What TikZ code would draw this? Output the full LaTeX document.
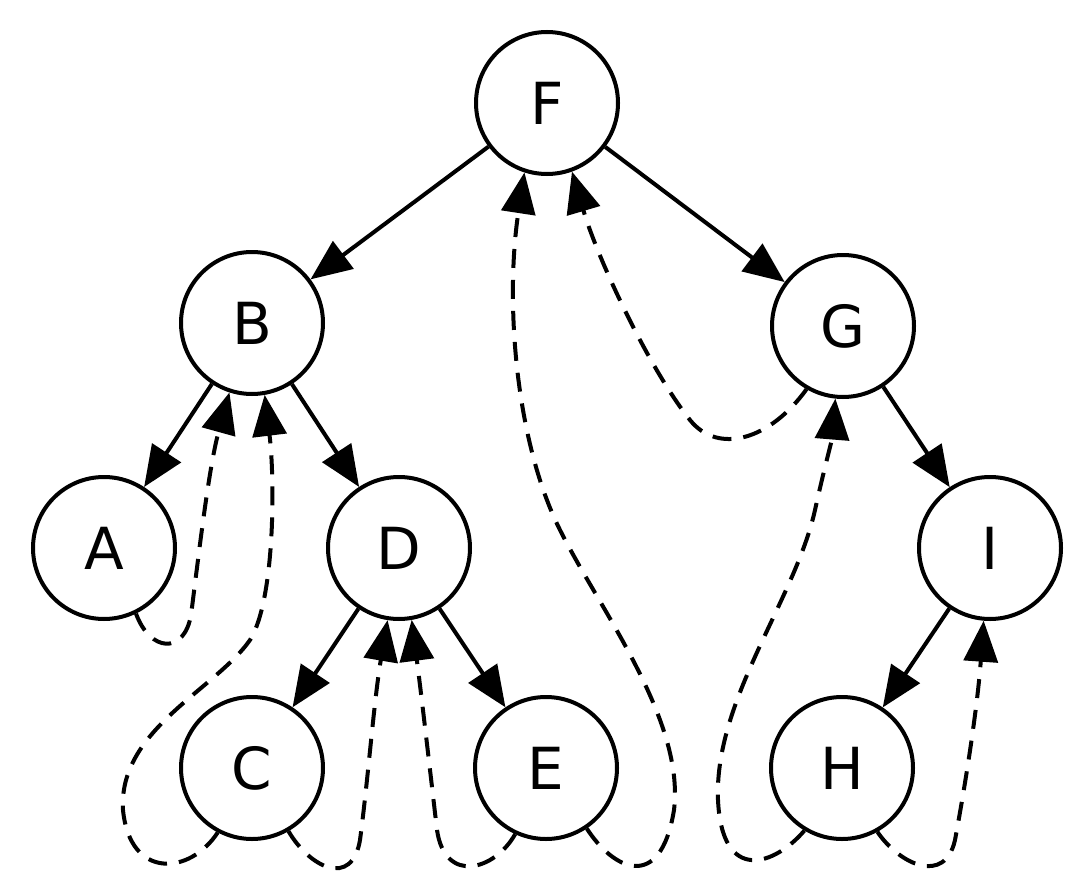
\documentclass[tikz,border=0pt]{standalone}
\usepackage{fontspec}
\setmainfont{DejaVu Sans}
\usepackage{tikz}
\usetikzlibrary{arrows.meta}
\tikzset{
  vertex/.style       = {circle, draw, line width=4pt, minimum size=142pt, inner sep=0pt,
                         font=\fontsize{58}{60}\selectfont},
  child/.style        = {-{Triangle[length=41pt, width=34pt]}, line width=4pt},
  thread/.style       = {child, dash pattern=on 19pt off 12pt},
}

\begin{document}
\begin{tikzpicture}[x=1pt, y=-1pt]
  \useasboundingbox (0,0) rectangle (1066,891);
  \node[vertex] (F) at (547,103) {F};
  \node[vertex] (B) at (252,323) {B};
  \node[vertex] (G) at (843,326) {G};
  \node[vertex] (A) at (104,548) {A};
  \node[vertex] (D) at (399,548) {D};
  \node[vertex] (I) at (990,548) {I};
  \node[vertex] (C) at (252,768) {C};
  \node[vertex] (E) at (546,768) {E};
  \node[vertex] (H) at (842,768) {H};
  % tree edges
  \draw[child] (F) -- (B);
  \draw[child] (F) -- (G);
  \draw[child] (B) -- (A);
  \draw[child] (B) -- (D);
  \draw[child] (D) -- (C);
  \draw[child] (D) -- (E);
  \draw[child] (G) -- (I);
  \draw[child] (I) -- (H);
  % threads back to the in-order successor
  \draw[thread] (A.-64) .. controls (150,652) and (184,655) .. (191,615)
    .. controls (197,570) and (208,470) .. (B.-108);
  \draw[thread] (C.-118) .. controls (190,875) and (130,880) .. (123,810)
    .. controls (118,730) and (215,690) .. (250,640)
    .. controls (275,600) and (275,480) .. (B.-80);
  \draw[thread] (C.-60) .. controls (310,868) and (352,888) .. (360,840)
    .. controls (368,780) and (374,700) .. (D.-99);
  \draw[thread] (E.-115) .. controls (495,870) and (445,885) .. (437,830)
    .. controls (430,770) and (422,700) .. (D.-80);
  \draw[thread] (E.-56) .. controls (612,868) and (660,895) .. (674,810)
    .. controls (685,720) and (600,610) .. (560,530)
    .. controls (515,440) and (505,300) .. (F.-108);
  \draw[thread] (G.-120) .. controls (770,440) and (718,455) .. (690,420)
    .. controls (650,370) and (598,260) .. (F.-70);
  \draw[thread] (H.-121) .. controls (775,865) and (722,885) .. (718,800)
    .. controls (714,700) and (795,600) .. (815,510)
    .. controls (825,465) and (832,440) .. (G.-96);
  \draw[thread] (H.-61) .. controls (900,865) and (945,885) .. (955,840)
    .. controls (968,770) and (978,700) .. (I.-95);
\end{tikzpicture}
\end{document}
